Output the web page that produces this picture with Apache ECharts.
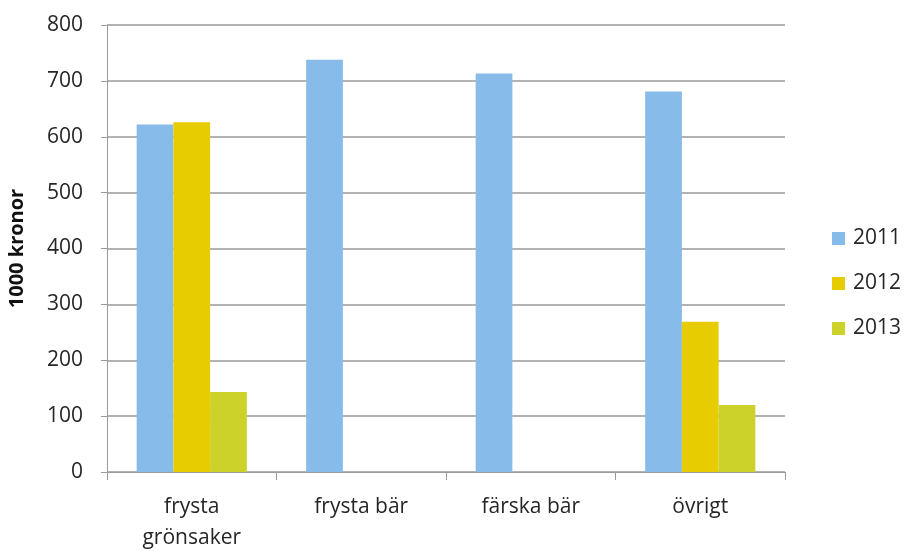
<!DOCTYPE html>
<html>
<head>
<meta charset="utf-8">
<script src="https://cdn.jsdelivr.net/npm/echarts@6/dist/echarts.min.js"></script>
<style>
  html, body { margin: 0; padding: 0; background: #fff; }
  #main { width: 904px; height: 551px; }
</style>
</head>
<body>
<div id="main"></div>
<script>
// data
const categories = ['frysta\ngrönsaker', 'frysta bär', 'färska bär', 'övrigt'];
const years = ['2011', '2012', '2013'];
const values2011 = [622, 738, 713, 681];
const values2012 = [626, null, null, 269];
const values2013 = [143, null, null, 120];
const yTicks = [0, 100, 200, 300, 400, 500, 600, 700, 800];

const colors = ['#87BBEA', '#E6CC00', '#CCD22A'];
const font = '"Open Sans", sans-serif';

const chart = echarts.init(document.getElementById('main'), null, { renderer: 'canvas' });

const seriesData = [values2011, values2012, values2013];

const option = {
  animation: false,
  textStyle: { fontFamily: font },
  grid: { left: 107, right: 119, top: 25, bottom: 79, containLabel: false, outerBoundsMode: 'none' },
  legend: {
    orient: 'vertical',
    left: 827,
    top: 223,
    itemWidth: 13,
    itemHeight: 13,
    itemGap: 24,
    icon: 'rect',
    data: years,
    textStyle: { fontSize: 21, color: '#262626', fontFamily: font, padding: [0, 0, 0, 3] }
  },
  xAxis: {
    type: 'category',
    data: categories,
    axisLine: { lineStyle: { color: '#9a9a9a', width: 1 } },
    axisTick: { show: true, alignWithLabel: false, length: 8, lineStyle: { color: '#9a9a9a' } },
    axisLabel: { color: '#262626', fontSize: 21, margin: 20, lineHeight: 31, fontFamily: font }
  },
  yAxis: {
    type: 'value',
    min: yTicks[0],
    max: yTicks[yTicks.length - 1],
    interval: 100,
    name: '1000 kronor',
    nameLocation: 'middle',
    nameGap: 80,
    nameTextStyle: { fontSize: 20, fontWeight: 'bold', color: '#111', fontFamily: font },
    axisLine: { show: true, lineStyle: { color: '#9a9a9a' } },
    axisTick: { show: true, length: 6, lineStyle: { color: '#9a9a9a' } },
    axisLabel: { color: '#262626', fontSize: 21, margin: 24, fontFamily: font },
    splitLine: { lineStyle: { color: '#9a9a9a', width: 1.5 } }
  },
  series: years.map((y, i) => ({
    name: y,
    type: 'bar',
    data: seriesData[i],
    barGap: '0%',
    barCategoryGap: '35%',
    itemStyle: { color: colors[i] }
  }))
};

chart.setOption(option);
</script>
</body>
</html>
